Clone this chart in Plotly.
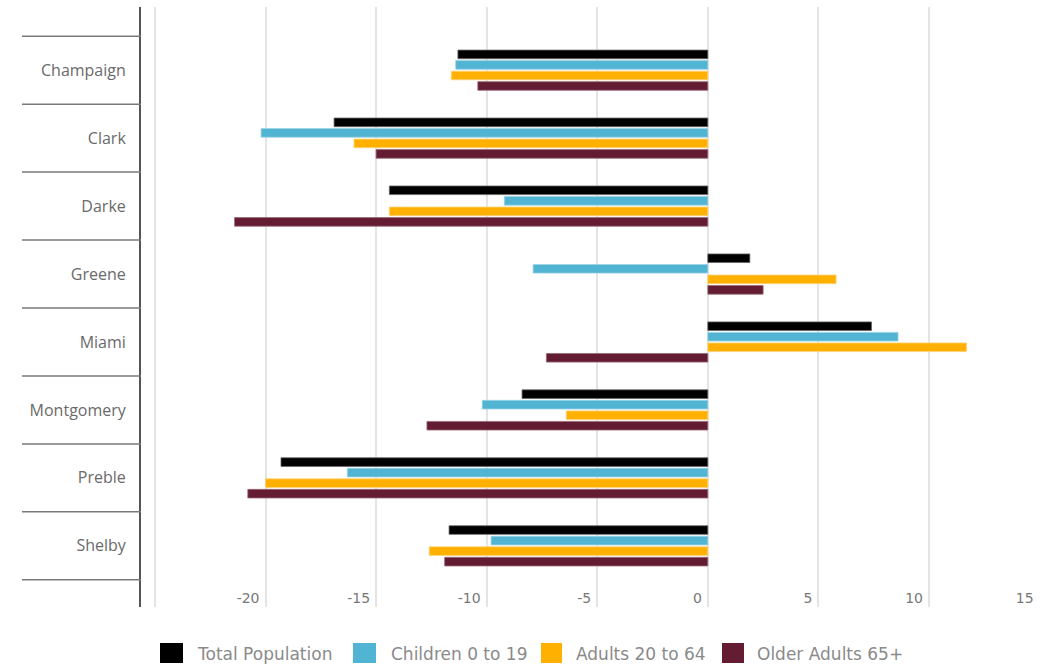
import plotly.graph_objects as go

counties = ["Champaign", "Clark", "Darke", "Greene", "Miami", "Montgomery", "Preble", "Shelby"]
series_names = ["Total Population", "Children 0 to 19", "Adults 20 to 64", "Older Adults 65+"]
total_population = [-11.3, -16.9, -14.4, 1.9, 7.4, -8.4, -19.3, -11.7]
children_0_19 = [-11.4, -20.2, -9.2, -7.9, 8.6, -10.2, -16.3, -9.8]
adults_20_64 = [-11.6, -16.0, -14.4, 5.8, 11.7, -6.4, -20.0, -12.6]
older_adults_65 = [-10.4, -15.0, -21.4, 2.5, -7.3, -12.7, -20.8, -11.9]
tick_vals = [-25, -20, -15, -10, -5, 0, 5, 10, 15]
tick_text = ["", "-20", "-15", "-10", "-5", "0", "5", "10", "15"]

colors = ["#000000", "#52b4d3", "#ffb000", "#641c32"]
line_colors = ["#666666", "#9ad3e6", "#ffd47a", "#9a6a78"]
values = [total_population, children_0_19, adults_20_64, older_adults_65]

W, H = 1051, 664
L, R, T, B = 141, 11, 7, 57
PW, PH = W - L - R, H - T - B

def px_x(px):
    return (px - L) / PW

def px_y(py):
    return (H - B - py) / PH

fig = go.Figure()
for name, vals, c, lc in zip(series_names, values, colors, line_colors):
    fig.add_trace(go.Bar(
        y=counties, x=vals, name=name, orientation="h",
        marker=dict(color=c, line=dict(color=lc, width=0.8)),
        showlegend=False,
    ))

shapes = []
for i in range(len(counties) + 1):
    shapes.append(dict(type="line", xref="paper", yref="y",
                       x0=px_x(22), x1=0, y0=i - 0.5, y1=i - 0.5,
                       line=dict(color="#7a7a7a", width=1.5)))

# manual legend
legend_sw = [(160, 183), (353, 376), (541, 562), (722, 744)]
legend_tx = [195, 389, 574, 755]
annotations = []
for (a, b), tx, name, c in zip(legend_sw, legend_tx, series_names, colors):
    shapes.append(dict(type="rect", xref="paper", yref="paper",
                       x0=px_x(a), x1=px_x(b), y0=px_y(663), y1=px_y(643),
                       fillcolor=c, line=dict(width=0)))
    annotations.append(dict(xref="paper", yref="paper", x=px_x(tx), y=px_y(654),
                            text=name, showarrow=False, xanchor="left", yanchor="middle",
                            font=dict(family="DejaVu Sans", size=17, color="#8a8a8a")))

fig.update_layout(
    width=W, height=H,
    margin=dict(l=L, r=R, t=T, b=B, pad=0),
    paper_bgcolor="white", plot_bgcolor="white",
    barmode="group", bargap=0.38, bargroupgap=0.18,
    shapes=shapes, annotations=annotations,
    showlegend=False,
    xaxis=dict(range=[-25.63, 15.02], tickvals=tick_vals, ticktext=tick_text,
               showgrid=True, gridcolor="#e4e4e4", gridwidth=1.5,
               zeroline=False, showline=False, ticks="",
               ticklabelposition="inside left",
               ticklabelshift=-6, ticklabelstandoff=-5,
               tickfont=dict(family="DejaVu Sans", size=14, color="#777777")),
    yaxis=dict(range=[7.9, -0.93], type="category", showgrid=False,
               showline=True, linecolor="#555555", linewidth=2, ticks="",
               ticklabelstandoff=10,
               tickfont=dict(family="Open Sans", size=16, color="#6a6a6a")),
)

fig.write_html("out.html")
